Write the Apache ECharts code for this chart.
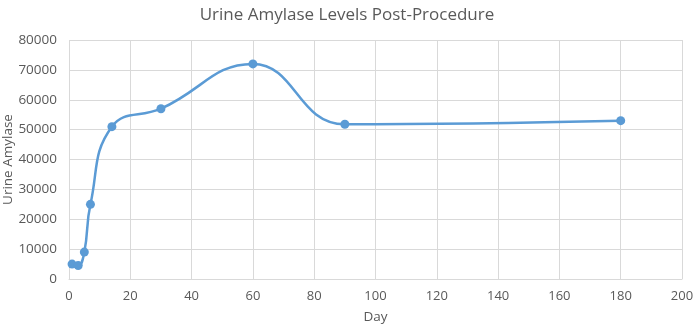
<!DOCTYPE html>
<html>
<head>
<meta charset="utf-8">
<script src="https://cdn.jsdelivr.net/npm/echarts@6/dist/echarts.min.js"></script>
<style>
html,body{margin:0;padding:0;background:#fff;}
#c{width:694px;height:329px;}
</style>
</head>
<body>
<div id="c"></div>
<script>
var days = [1, 3, 5, 7, 14, 30, 60, 90, 180];
var amylase = [5000, 4500, 9000, 25000, 51000, 57000, 72000, 51800, 53000];
var xTicks = [0, 20, 40, 60, 80, 100, 120, 140, 160, 180, 200];
var yTicks = [0, 10000, 20000, 30000, 40000, 50000, 60000, 70000, 80000];
var titleText = 'Urine Amylase Levels Post-Procedure';

var font = '"Open Sans", "Liberation Sans", sans-serif';
var chart = echarts.init(document.getElementById('c'));
chart.setOption({
  animation: false,
  title: {
    text: titleText,
    left: 'center',
    top: 2,
    textStyle: {fontFamily: font, fontSize: 17, fontWeight: 'normal', color: '#595959'}
  },
  grid: {left: 69, right: 12, top: 40, bottom: 50, outerBoundsMode: 'none', containLabel: false},
  xAxis: {
    type: 'value',
    min: xTicks[0], max: xTicks[xTicks.length - 1], interval: 20,
    name: 'Day', nameLocation: 'middle', nameGap: 31, nameMoveOverlap: false,
    nameTextStyle: {fontFamily: font, fontSize: 13.5, color: '#595959'},
    axisLine: {show: true, lineStyle: {color: '#d9d9d9'}},
    axisTick: {show: false},
    axisLabel: {fontFamily: font, fontSize: 13, color: '#595959', margin: 11,
      formatter: function (v) { return String(v); }},
    splitLine: {show: true, lineStyle: {color: '#d9d9d9'}}
  },
  yAxis: {
    type: 'value',
    min: yTicks[0], max: yTicks[yTicks.length - 1], interval: 10000,
    name: 'Urine Amylase', nameLocation: 'middle', nameGap: 54, nameMoveOverlap: false,
    nameTextStyle: {fontFamily: font, fontSize: 13.5, color: '#595959'},
    axisLine: {show: false},
    axisTick: {show: false},
    axisLabel: {fontFamily: font, fontSize: 13.5, color: '#595959', margin: 12,
      formatter: function (v) { return String(v); }},
    splitLine: {show: true, lineStyle: {color: '#d9d9d9'}}
  },
  series: [{
    type: 'line',
    data: days.map(function (d, i) { return [d, amylase[i]]; }),
    smooth: 0.45,
    symbol: 'circle',
    symbolSize: 9,
    lineStyle: {color: '#5B9BD5', width: 2.5},
    itemStyle: {color: '#5B9BD5'}
  }]
});
</script>
</body>
</html>
